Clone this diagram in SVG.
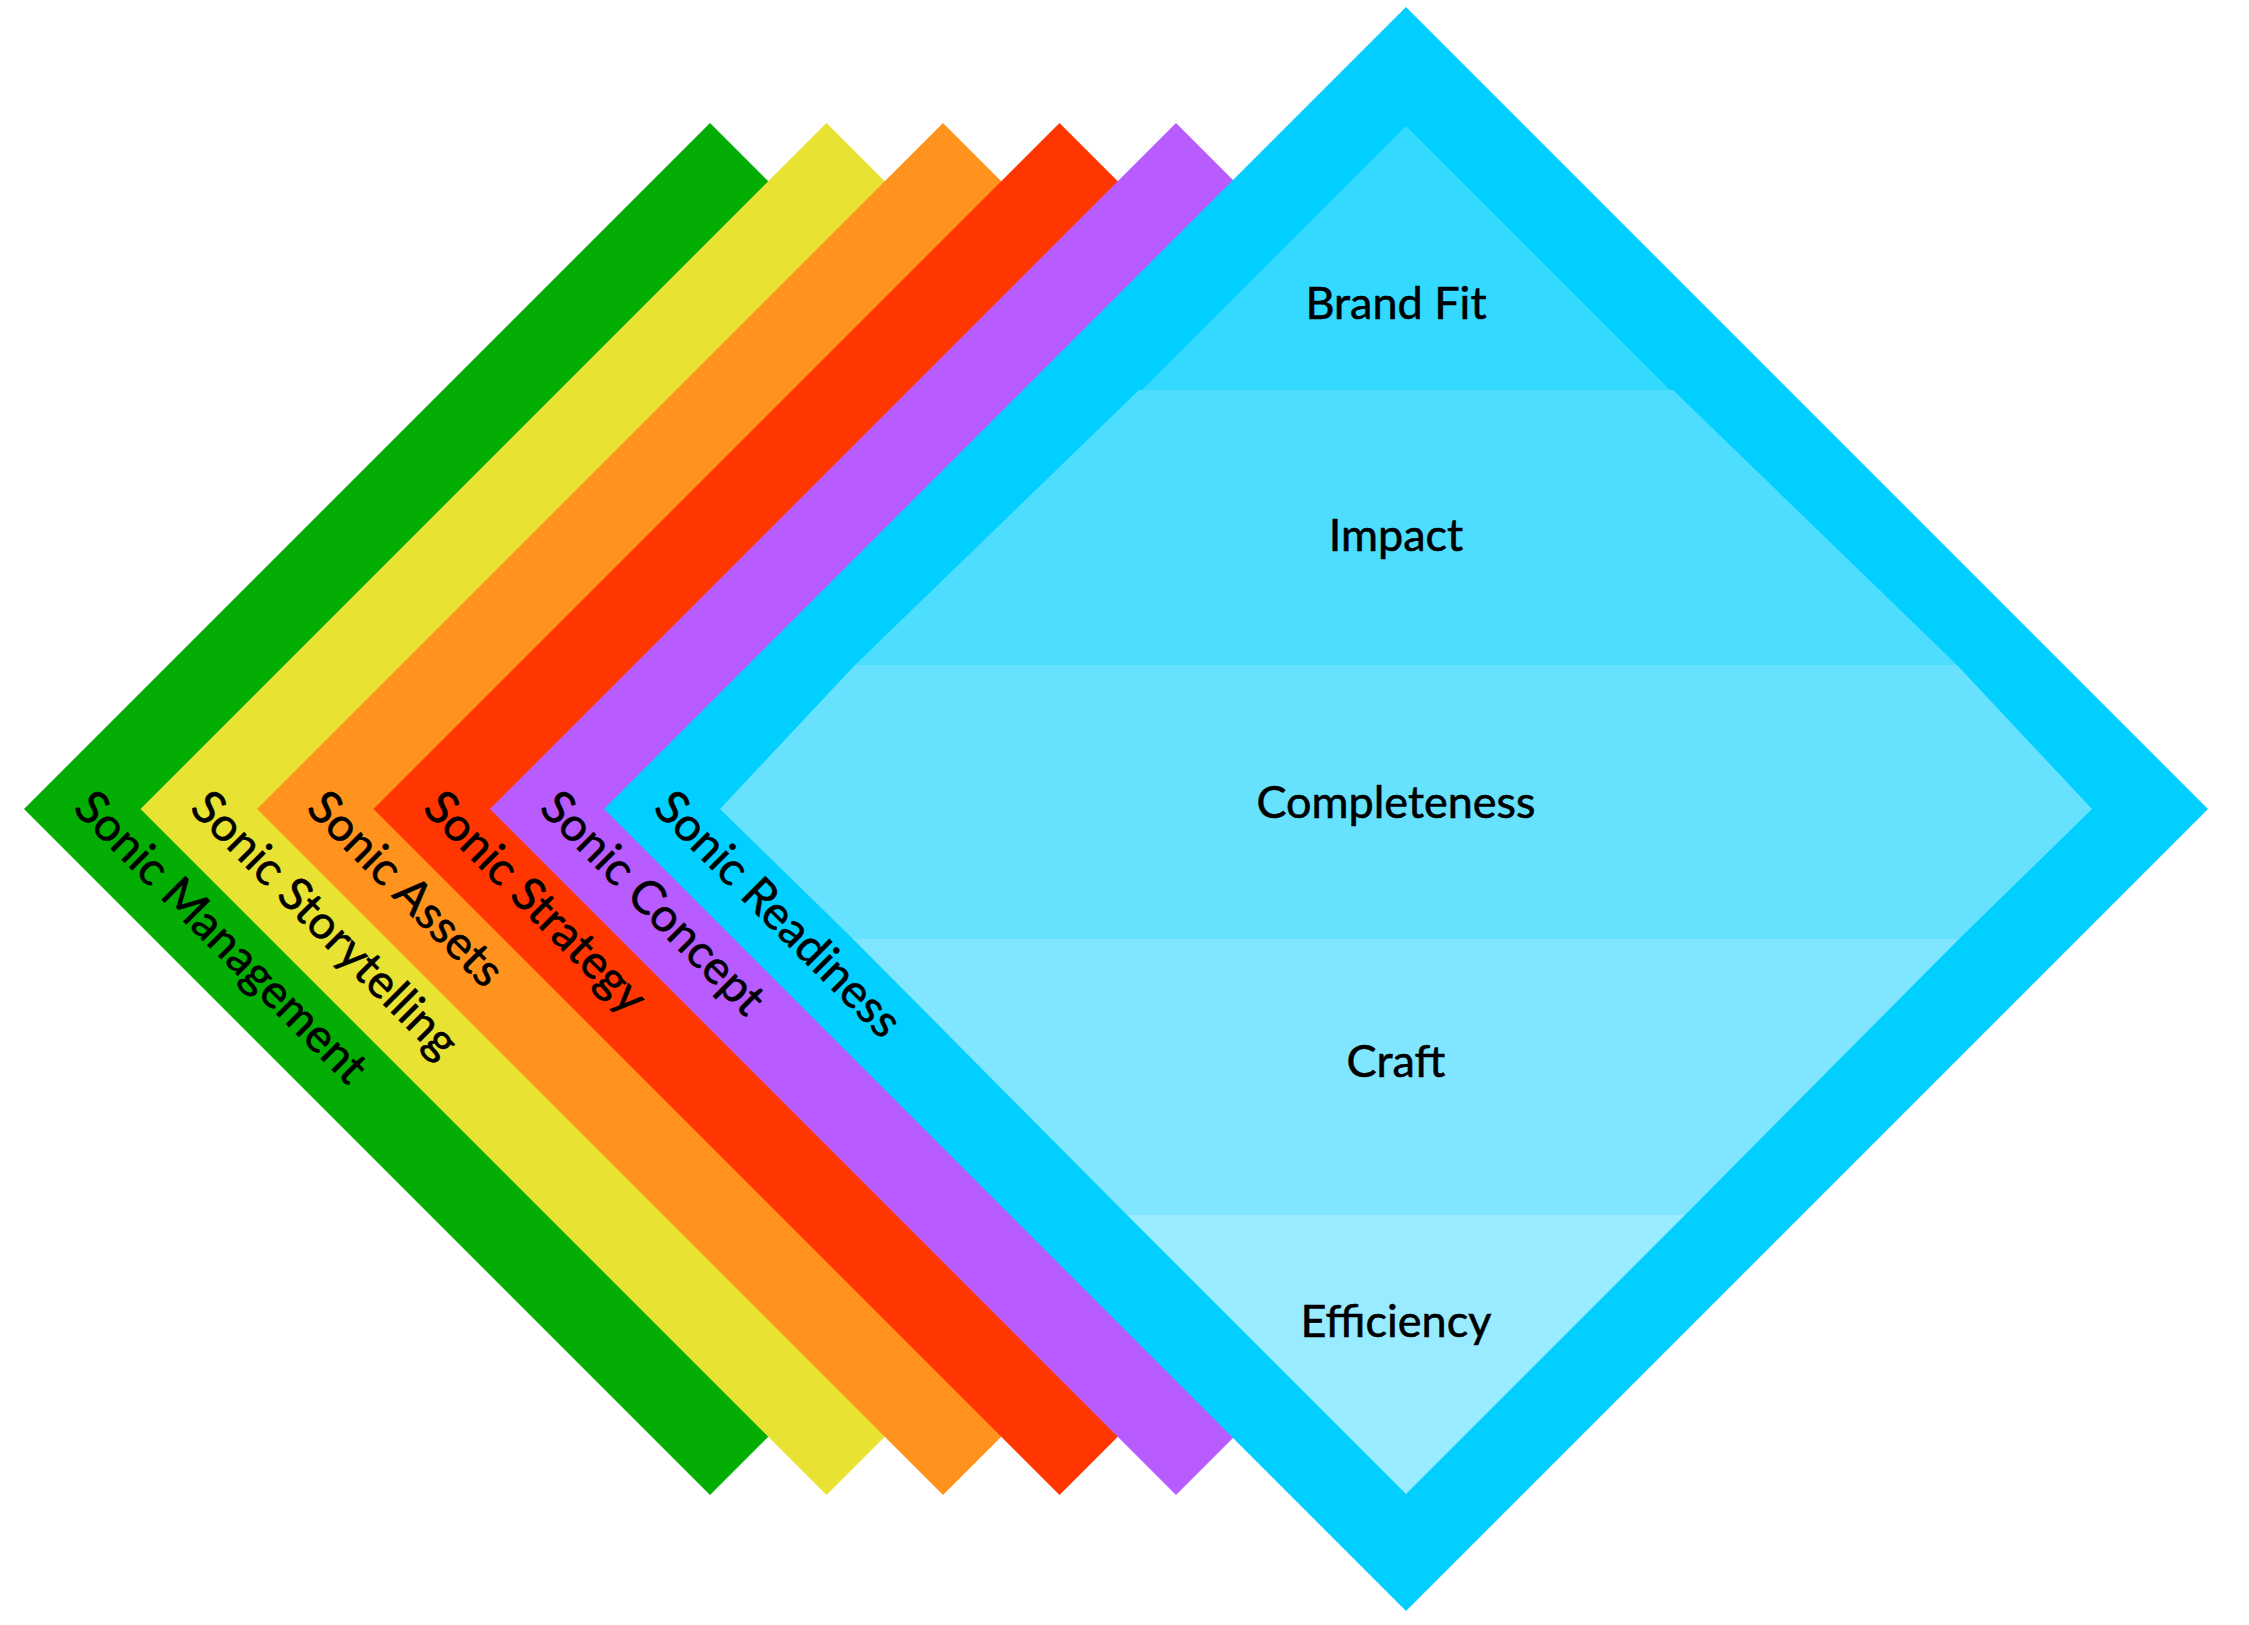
<svg xmlns="http://www.w3.org/2000/svg" width="2249" height="1625" viewBox="0 0 2249 1625">
<style>
.lbl{font-family:Lato,"Liberation Sans",sans-serif;font-size:45px;fill:#000;stroke:#000;stroke-width:0.6px;}
.rot{font-size:46.5px;}
.mid{text-anchor:middle;}
</style>
<rect width="2249" height="1625" fill="#ffffff"/>
<g id="sonic-management">
<polygon points="710,123 1396,809 710,1495 24,809" fill="#04AD03"/>
<text class="lbl rot" transform="translate(72,810) rotate(45)">Sonic Management</text>
</g>
<g id="sonic-storytelling">
<polygon points="826.5,123 1512.5,809 826.5,1495 140.5,809" fill="#E8E333"/>
<text class="lbl rot" transform="translate(188.5,810) rotate(45)">Sonic Storytelling</text>
</g>
<g id="sonic-assets">
<polygon points="943,123 1629,809 943,1495 257,809" fill="#FF931E"/>
<text class="lbl rot" transform="translate(305,810) rotate(45)">Sonic Assets</text>
</g>
<g id="sonic-strategy">
<polygon points="1059.5,123 1745.5,809 1059.5,1495 373.5,809" fill="#FF3600"/>
<text class="lbl rot" transform="translate(421.5,810) rotate(45)">Sonic Strategy</text>
</g>
<g id="sonic-concept">
<polygon points="1176,123 1862,809 1176,1495 490,809" fill="#B95CFF"/>
<text class="lbl rot" transform="translate(538,810) rotate(45)">Sonic Concept</text>
</g>
<g id="sonic-readiness">
<polygon points="1406,7 2208,809 1406,1611 604,809" fill="#00CFFF"/>
<text class="lbl rot" transform="translate(652,810) rotate(45)">Sonic Readiness</text>
</g>
<g id="brand-fit">
<polygon points="1406,126 1670,390 1142,390" fill="#33D9FF"/>
<text class="lbl mid" x="1396" y="319">Brand Fit</text>
</g>
<g id="impact">
<polygon points="1139,390 1673,390 1957,665 855,665" fill="#4DDDFF"/>
<text class="lbl mid" x="1396" y="551">Impact</text>
</g>
<g id="completeness">
<polygon points="855,665 1957,665 2092,809 1959,939 853,939 720,809" fill="#66E2FF"/>
<text class="lbl mid" x="1396" y="818">Completeness</text>
</g>
<g id="craft">
<polygon points="853,939 1959,939 1685,1215 1127,1215" fill="#80E6FF"/>
<text class="lbl mid" x="1396" y="1077">Craft</text>
</g>
<g id="efficiency">
<polygon points="1127,1215 1685,1215 1406,1494" fill="#99EBFF"/>
<text class="lbl mid" x="1396" y="1337">Efficiency</text>
</g>
<g id="connectors"></g>
</svg>
